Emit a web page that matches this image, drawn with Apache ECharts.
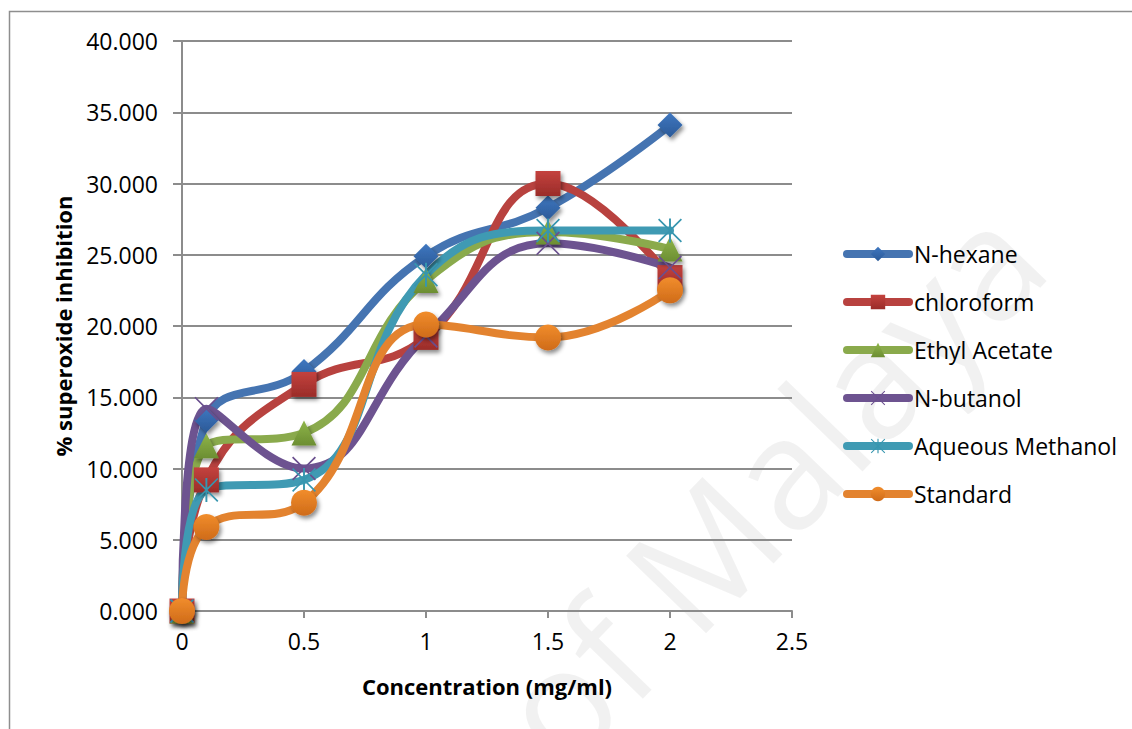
<!DOCTYPE html>
<html>
<head>
<meta charset="utf-8">
<script src="https://cdn.jsdelivr.net/npm/echarts@6/dist/echarts.min.js"></script>
<style>
  html, body { margin: 0; padding: 0; background: #ffffff; }
  #chart { width: 1132px; height: 729px; }
</style>
</head>
<body>
<div id="chart"></div>
<script>
// Concentration (mg/ml) on the x axis
const concentrations = [0, 0.1, 0.5, 1, 1.5, 2];

// % superoxide inhibition per extract
const nHexane         = [0, 13.4, 16.8, 24.9, 28.3, 34.1];
const chloroform      = [0, 9.2, 15.9, 19.2, 30.0, 23.4];
const ethylAcetate    = [0, 11.6, 12.5, 23.2, 26.6, 25.4];
const nButanol        = [0, 14.2, 10.0, 19.3, 25.8, 24.1];
const aqueousMethanol = [0, 8.5, 9.2, 23.6, 26.7, 26.7];
const standard        = [0, 5.9, 7.6, 20.1, 19.2, 22.5];

const seriesNames = ['N-hexane', 'chloroform', 'Ethyl Acetate', 'N-butanol', 'Aqueous Methanol', 'Standard'];

const FONT = '"Open Sans", "Liberation Sans", sans-serif';

// thin filled marks: a cross and an asterisk (cross plus a vertical bar)
const crossPath = 'path://M0,1L1,0L10,9L19,0L20,1L11,10L20,19L19,20L10,11L1,20L0,19L9,10Z';
const starPath = 'path://M0,1L1,0L10,9L19,0L20,1L11,10L20,19L19,20L10,11L1,20L0,19L9,10Z' +
                 'M9.2,0L10.8,0L10.8,20L9.2,20Z';

function vGrad(top, bottom) {
  return { type: 'linear', x: 0, y: 0, x2: 0, y2: 1,
    colorStops: [{ offset: 0, color: top }, { offset: 1, color: bottom }] };
}

function pairs(values) {
  return concentrations.map((x, i) => [x, values[i]]);
}

const markShadow = { shadowColor: 'rgba(0,0,0,0.45)', shadowBlur: 4, shadowOffsetX: 2, shadowOffsetY: 3 };

function lineSeries(name, values, color, symbol, size, itemStyle) {
  return {
    name: name,
    type: 'line',
    smooth: 0.45,
    data: pairs(values),
    symbol: symbol,
    symbolSize: size,
    lineStyle: { width: 8, color: color, cap: 'round' },
    itemStyle: Object.assign({ color: color }, itemStyle),
    z: 3
  };
}

const series = [
  lineSeries(seriesNames[0], nHexane, '#4574B1', 'diamond', 25,
    Object.assign({ color: vGrad('#3F77C0', '#2B5A98') }, markShadow)),
  lineSeries(seriesNames[1], chloroform, '#B8423F', 'rect', 25,
    Object.assign({ color: vGrad('#C4423E', '#9A2C29') }, markShadow)),
  lineSeries(seriesNames[2], ethylAcetate, '#8AAA4C', 'triangle', 25,
    Object.assign({ color: vGrad('#8FB54A', '#6C8E32') }, markShadow)),
  lineSeries(seriesNames[3], nButanol, '#6D5390', crossPath, 24, { color: '#6A4F8E' }),
  lineSeries(seriesNames[4], aqueousMethanol, '#3F9AB3', starPath, 24, { color: '#3796AF' }),
  lineSeries(seriesNames[5], standard, '#E3832F', 'circle', 26,
    Object.assign({ color: vGrad('#F18D2C', '#CF6B19') }, markShadow))
];

const chart = echarts.init(document.getElementById('chart'), null, { renderer: 'svg' });

chart.setOption({
  backgroundColor: '#ffffff',
  animation: false,
  textStyle: { fontFamily: FONT },
  graphic: [
    {
      type: 'text',
      z: 0,
      silent: true,
      x: 1068, y: 284,
      rotation: 46 * Math.PI / 180,
      style: {
        text: 'University of Malaya',
        fill: 'rgba(0,0,0,0.055)',
        font: '156px ' + FONT,
        textAlign: 'right',
        textVerticalAlign: 'bottom'
      }
    },
    {
      type: 'rect',
      z: 1,
      silent: true,
      shape: { x: 9.5, y: 11.5, width: 1200, height: 800 },
      style: { fill: 'none', stroke: '#8e8e8e', lineWidth: 1.5 }
    }
  ],
  grid: { left: 182, right: 340, top: 41, bottom: 118, containLabel: false },
  legend: {
    orient: 'vertical',
    left: 843,
    top: 241,
    padding: 0,
    itemWidth: 62,
    itemHeight: 18,
    itemGap: 22,
    lineStyle: { width: 8, cap: 'round' },
    textStyle: { fontFamily: FONT, fontSize: 23, color: '#000', lineHeight: 26 }
  },
  xAxis: {
    type: 'value',
    min: 0,
    max: 2.5,
    interval: 0.5,
    name: 'Concentration (mg/ml)',
    nameLocation: 'middle',
    nameGap: 64,
    nameTextStyle: { fontFamily: FONT, fontSize: 22, fontWeight: 'bold', color: '#000' },
    axisLine: { show: true, onZero: false, lineStyle: { color: '#8c8c8c', width: 2 } },
    axisTick: { show: true, inside: false, length: 7, lineStyle: { color: '#8c8c8c', width: 2 } },
    axisLabel: { fontFamily: FONT, fontSize: 23, color: '#000', margin: 18,
      formatter: v => String(v) },
    splitLine: { show: false }
  },
  yAxis: {
    type: 'value',
    min: 0,
    max: 40,
    interval: 5,
    name: '% superoxide inhibition',
    nameLocation: 'middle',
    nameGap: 108,
    nameRotate: 90,
    nameTextStyle: { fontFamily: FONT, fontSize: 22, fontWeight: 'bold', color: '#000' },
    axisLine: { show: true, lineStyle: { color: '#8c8c8c', width: 2 } },
    axisTick: { show: true, inside: false, length: 9, lineStyle: { color: '#8c8c8c', width: 2 } },
    axisLabel: { fontFamily: FONT, fontSize: 23, color: '#000', margin: 24,
      formatter: v => v.toFixed(3) },
    splitLine: { show: true, lineStyle: { color: '#8c8c8c', width: 2 } }
  },
  series: series
});
</script>
</body>
</html>
